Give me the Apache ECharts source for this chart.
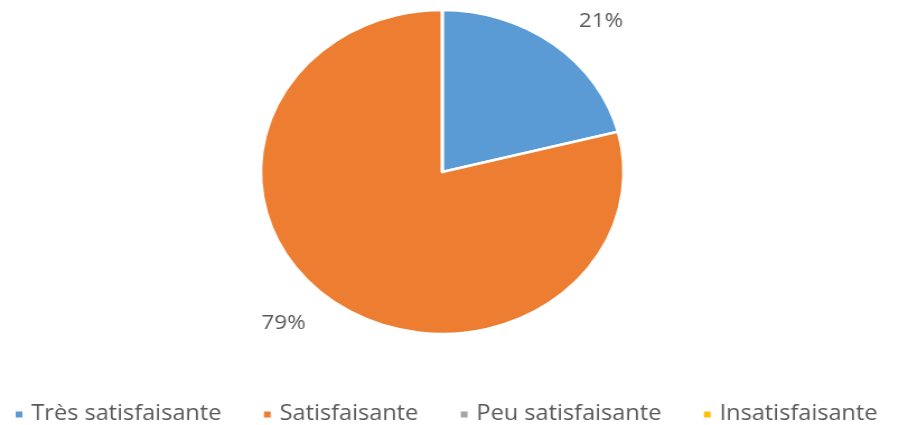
<!DOCTYPE html>
<html>
<head>
<meta charset="utf-8">
<script src="https://cdn.jsdelivr.net/npm/echarts@6/dist/echarts.min.js"></script>
<style>
html,body{margin:0;padding:0;background:#fff;overflow:hidden;}
#wrap{width:899px;height:425px;overflow:hidden;}
#chart{width:803px;height:425px;transform:scaleX(1.1196);transform-origin:0 0;}
</style>
</head>
<body>
<div id="wrap"><div id="chart"></div></div>
<script>
const categories = ['Très satisfaisante', 'Satisfaisante', 'Peu satisfaisante', 'Insatisfaisante'];
const values = [21, 79, 0, 0];
const colors = ['#5B9BD5', '#ED7D31', '#A5A5A5', '#FFC000'];

const chart = echarts.init(document.getElementById('chart'));
chart.setOption({
  animation: false,
  color: colors,
  legend: {
    bottom: 0,
    left: 12,
    padding: 0,
    icon: 'rect',
    itemWidth: 8,
    itemHeight: 8,
    itemGap: 36,
    data: categories,
    textStyle: { fontFamily: 'Open Sans', fontSize: 21, color: '#595959', padding: [0, 0, 0, 2] }
  },
  series: [{
    type: 'pie',
    center: [395, 172],
    radius: 162,
    startAngle: 90,
    clockwise: true,
    avoidLabelOverlap: false,
    itemStyle: { borderColor: '#fff', borderWidth: 2.5 },
    label: {
      show: true,
      position: 'outside',
      formatter: p => p.value > 0 ? p.value + '%' : '',
      fontFamily: 'Open Sans',
      fontSize: 20,
      color: '#595959'
    },
    labelLine: { show: false, length: 29, length2: 0 },
    data: categories.map((c, i) => ({ name: c, value: values[i] }))
  }]
});
</script>
</body>
</html>
